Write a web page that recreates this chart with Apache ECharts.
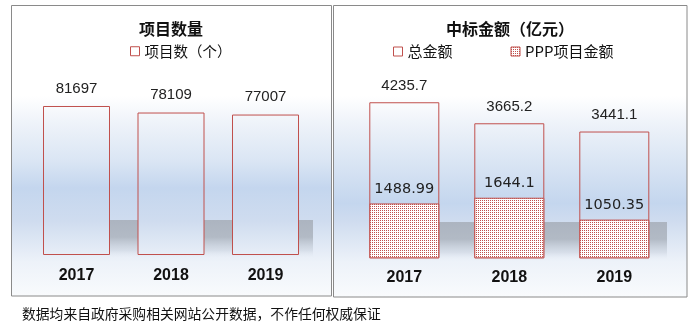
<!DOCTYPE html>
<html><head><meta charset="utf-8">
<script src="https://cdn.jsdelivr.net/npm/echarts@6/dist/echarts.min.js"></script>
<style>html,body{margin:0;padding:0;background:#fff}#c{width:700px;height:332px}</style>
</head><body><div id="c"></div>
<script>
const years = ['2017', '2018', '2019'];
const projectCounts = [81697, 78109, 77007];
const totalAmounts = [4235.7, 3665.2, 3441.1];
const pppAmounts = [1488.99, 1644.1, 1050.35];
const leftTitle = '项目数量';
const rightTitle = '中标金额（亿元）';
const countName = '项目数（个）';
const totalName = '总金额';
const pppName = 'PPP项目金额';
const footnote = '数据均来自政府采购相关网站公开数据，不作任何权威保证';

const RED = '#c0504d';
const pc = document.createElement('canvas'); pc.width = 2; pc.height = 2;
const cx = pc.getContext('2d');
cx.fillStyle = '#ffffff'; cx.fillRect(0, 0, 2, 2);
cx.fillStyle = RED; cx.fillRect(0, 0, 1, 1);
const pattern = { image: pc, repeat: 'repeat' };

// global (pixel) vertical gradient for the panel backdrop
function bgGrad(peakY) {
  const y0 = 5, y1 = 297, h = y1 - y0;
  const o = y => Math.min(1, Math.max(0, (y - y0) / h));
  return { type: 'linear', global: true, x: 0, y: y0, x2: 0, y2: y1, colorStops: [
    { offset: 0, color: '#ffffff' },
    { offset: o(96), color: '#ffffff' },
    { offset: o(125), color: '#edf2f9' },
    { offset: o(160), color: '#dbe6f4' },
    { offset: o(peakY), color: '#c4d6ee' },
    { offset: o(221), color: '#cfdcef' },
    { offset: o(262), color: '#edf2f9' },
    { offset: 1, color: '#f9fbfd' }
  ]};
}
function shadowGrad(y0, y1) {
  return { type: 'linear', global: true, x: 0, y: y0, x2: 0, y2: y1, colorStops: [
    { offset: 0, color: 'rgba(172,180,192,1)' },
    { offset: 0.45, color: 'rgba(178,186,197,1)' },
    { offset: 0.8, color: 'rgba(205,213,224,0.6)' },
    { offset: 1, color: 'rgba(230,236,245,0)' }
  ]};
}
const leftBg = bgGrad(188);
const rightBg = bgGrad(203);

const chart = echarts.init(document.getElementById('c'), null, { renderer: 'canvas' });
const numFont = 'Liberation Sans, Arial, sans-serif';
const cjk = '"Noto Sans CJK SC", sans-serif';

chart.setOption({
  animation: false,
  backgroundColor: '#ffffff',
  graphic: [
    { type: 'rect', z: -10, shape: { x: 11, y: 5, width: 320, height: 291 }, style: { fill: leftBg } },
    { type: 'rect', z: -10, shape: { x: 333, y: 5, width: 354, height: 292 }, style: { fill: rightBg } },
    { type: 'rect', z: -9, shape: { x: 110, y: 220, width: 203, height: 38 }, style: { fill: shadowGrad(220, 258) } },
    { type: 'rect', z: -9, shape: { x: 439, y: 222, width: 228, height: 38 }, style: { fill: shadowGrad(222, 260) } },
    { type: 'rect', z: 100, shape: { x: 11.5, y: 5.5, width: 320, height: 290.5 }, style: { fill: 'none', stroke: '#8a8a8a', lineWidth: 1 } },
    { type: 'rect', z: 100, shape: { x: 333.5, y: 5.5, width: 353.5, height: 291.5 }, style: { fill: 'none', stroke: '#8a8a8a', lineWidth: 1 } },
    { type: 'text', z: 100, x: 171, y: 29, style: { text: leftTitle, font: 'bold 16px ' + cjk, fill: '#111', align: 'center', verticalAlign: 'middle' } },
    { type: 'text', z: 100, x: 510, y: 29, style: { text: rightTitle, font: 'bold 16px ' + cjk, fill: '#111', align: 'center', verticalAlign: 'middle' } },
    { type: 'text', z: 100, x: 22, y: 314, style: { text: footnote, font: '13.8px ' + cjk, fill: '#111', align: 'left', verticalAlign: 'middle' } }
  ],
  legend: [
    { left: 130, top: 44, padding: 0, itemWidth: 9, itemHeight: 9, selectedMode: false,
      textStyle: { fontSize: 14.5, fontFamily: cjk, color: '#111' },
      data: [{ name: countName, icon: 'rect', itemStyle: { color: '#ffffff', borderColor: RED, borderWidth: 1 } }] },
    { left: 393, top: 44, padding: 0, itemWidth: 9, itemHeight: 9, itemGap: 58, selectedMode: false,
      textStyle: { fontSize: 15, fontFamily: cjk, color: '#111' },
      data: [
        { name: totalName, icon: 'rect', itemStyle: { color: '#ffffff', borderColor: RED, borderWidth: 1 } },
        { name: pppName, icon: 'rect', itemStyle: { color: pattern, borderColor: RED, borderWidth: 1 } }
      ] }
  ],
  grid: [
    { left: 29.25, top: 72.6, width: 283.5, height: 182.4 },
    { left: 351.8, top: 74.1, width: 315, height: 184.2 }
  ],
  xAxis: [
    { type: 'category', gridIndex: 0, data: years, axisLine: { show: false }, axisTick: { show: false },
      axisLabel: { margin: 13, fontSize: 16, fontWeight: 'bold', fontFamily: numFont, color: '#111' } },
    { type: 'category', gridIndex: 1, data: years, axisLine: { show: false }, axisTick: { show: false },
      axisLabel: { margin: 11, fontSize: 16, fontWeight: 'bold', fontFamily: numFont, color: '#111' } }
  ],
  yAxis: [
    { type: 'value', gridIndex: 0, min: 0, max: 100000, show: false, splitLine: { show: false } },
    { type: 'value', gridIndex: 1, min: 0, max: 5000, show: false, splitLine: { show: false } }
  ],
  series: [
    { name: countName, type: 'bar', xAxisIndex: 0, yAxisIndex: 0, data: projectCounts, barWidth: 67,
      itemStyle: { color: leftBg, borderColor: RED, borderWidth: 1 },
      label: { show: true, position: 'top', distance: 10, fontSize: 15, fontFamily: numFont, color: '#222' } },
    { name: totalName, type: 'bar', xAxisIndex: 1, yAxisIndex: 1, data: totalAmounts, barWidth: 70, barGap: '-100%',
      itemStyle: { color: rightBg, borderColor: RED, borderWidth: 1 },
      label: { show: true, position: 'top', distance: 9, fontSize: 15, fontFamily: numFont, color: '#222' } },
    { name: pppName, type: 'bar', xAxisIndex: 1, yAxisIndex: 1, data: pppAmounts, barWidth: 70, barGap: '-100%',
      itemStyle: { color: pattern, borderColor: RED, borderWidth: 1 },
      label: { show: true, position: 'top', distance: 7, fontSize: 14.5, fontFamily: 'DejaVu Sans, Verdana, sans-serif', color: '#222' } }
  ]
});
</script>
</body></html>
